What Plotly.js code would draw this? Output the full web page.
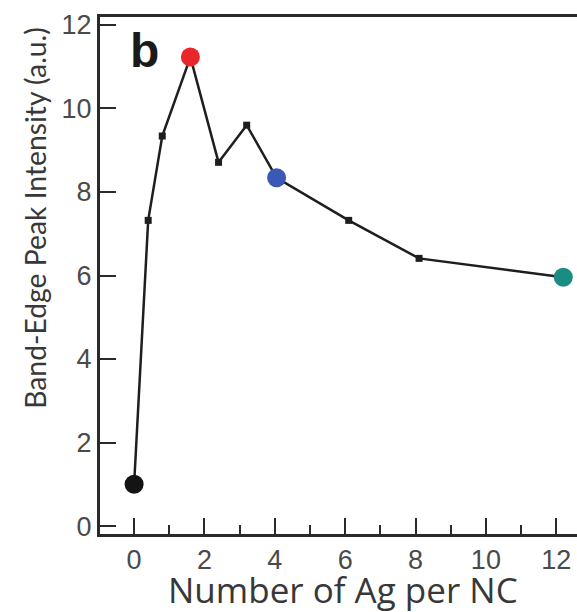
<!DOCTYPE html>
<html>
<head>
<meta charset="utf-8">
<script src="https://cdn.plot.ly/plotly-3.0.1.min.js"></script>
<style>html,body{margin:0;padding:0;background:#fff;}</style>
</head>
<body>
<div id="chart" style="width:577px;height:612px;"></div>
<script>
// Data
const agPerNC = [0, 0.4, 0.8, 1.6, 2.4, 3.2, 4.05, 6.1, 8.1, 12.2];
const peakIntensity = [1.0, 7.32, 9.34, 11.23, 8.71, 9.6, 8.34, 7.32, 6.41, 5.96];
// highlighted samples (large coloured circles)
const highlightX = [0, 1.6, 4.05, 12.2];
const highlightY = [1.0, 11.23, 8.34, 5.96];
const xTickVals = [0, 2, 4, 6, 8, 10, 12];
const yTickVals = [0, 2, 4, 6, 8, 10, 12];

const highlightColors = ['#141414', '#e8262c', '#3b58b4', '#1b8c84'];

const traces = [
  {
    x: agPerNC, y: peakIntensity, type: 'scatter', mode: 'lines+markers',
    line: {color: '#1e1e1e', width: 2.5},
    marker: {symbol: 'square', size: 7, color: '#1e1e1e'},
    hoverinfo: 'skip', showlegend: false
  },
  {
    x: highlightX, y: highlightY, type: 'scatter', mode: 'markers',
    marker: {symbol: 'circle', size: 19, color: highlightColors, line: {width: 0}},
    hoverinfo: 'skip', showlegend: false
  }
];

const tickFont = {family: 'Liberation Sans, Arial, sans-serif', size: 27, color: '#4a4a4a'};

const layout = {
  width: 577, height: 612,
  margin: {l: 100, r: 0, t: 17, b: 78, pad: 0},
  paper_bgcolor: '#ffffff', plot_bgcolor: '#ffffff',
  showlegend: false,
  xaxis: {
    range: [-0.97, 12.59],
    tickmode: 'array', tickvals: xTickVals, ticktext: xTickVals.map(String),
    ticks: 'inside', ticklen: 16, tickwidth: 2, tickcolor: '#2a2a2a',
    minor: {ticks: 'inside', ticklen: 9, tickwidth: 2, tickcolor: '#2a2a2a', dtick: 1, tick0: 0, showgrid: false},
    showline: true, linecolor: '#2a2a2a', linewidth: 3, mirror: true,
    showgrid: false, zeroline: false,
    tickfont: tickFont,
    ticklabelstandoff: 0
  },
  yaxis: {
    range: [-0.19, 12.19],
    tickmode: 'array', tickvals: yTickVals, ticktext: yTickVals.map(String),
    ticks: 'inside', ticklen: 16, tickwidth: 2, tickcolor: '#2a2a2a',
    showline: true, linecolor: '#2a2a2a', linewidth: 3, mirror: false,
    showgrid: false, zeroline: false,
    tickfont: tickFont,
    ticklabelstandoff: 0
  },
  annotations: [
    {
      text: '<b>b</b>', xref: 'paper', yref: 'paper', x: 0.058, y: 0.99,
      xanchor: 'left', yanchor: 'top', showarrow: false,
      font: {family: 'Liberation Sans, Arial, sans-serif', size: 48, color: '#1a1a1a'}
    },
    {
      text: 'Number of Ag per NC', xref: 'paper', yref: 'paper',
      x: 0.51, y: -0.108, xanchor: 'center', yanchor: 'middle',
      showarrow: false,
      font: {family: 'Open Sans, sans-serif', size: 35, color: '#383838'}
    },
    {
      text: 'Band-Edge Peak Intensity (a.u.)', xref: 'paper', yref: 'paper',
      x: -0.137, y: 0.611, xanchor: 'center', yanchor: 'middle', textangle: -90,
      showarrow: false,
      font: {family: 'Lato, sans-serif', size: 28.3, color: '#383838'}
    }
  ]
};

Plotly.newPlot('chart', traces, layout, {staticPlot: true, displayModeBar: false});
</script>
</body>
</html>
